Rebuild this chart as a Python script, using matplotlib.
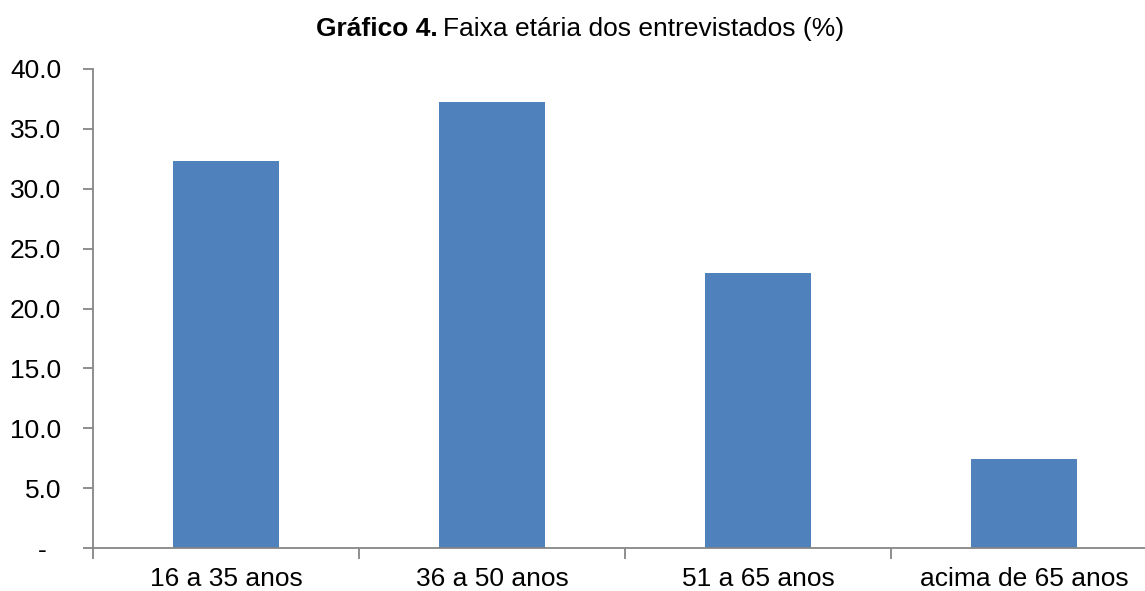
import matplotlib
matplotlib.use("Agg")
import matplotlib.pyplot as plt
from matplotlib.ticker import FixedLocator, FuncFormatter

categories = ["16 a 35 anos", "36 a 50 anos", "51 a 65 anos", "acima de 65 anos"]
values = [32.3, 37.25, 23.0, 7.4]
yticks = [0, 5, 10, 15, 20, 25, 30, 35, 40]

plt.rcParams['font.family'] = ['Liberation Sans', 'DejaVu Sans']

fig = plt.figure(figsize=(11.45, 5.91), dpi=100)
ax = fig.add_axes([93/1145, 1-548/591, (1157-93)/1145, (548-69)/591])

x = list(range(len(categories)))
ax.bar(x, values, width=0.4, color='#4F81BD', zorder=2)
ax.set_xlim(-0.5, len(categories) - 0.5)
ax.set_ylim(0, 40)

gray = '#868686'
for s in ['top', 'right']:
    ax.spines[s].set_visible(False)
for s in ['left', 'bottom']:
    ax.spines[s].set_color(gray)
    ax.spines[s].set_linewidth(1.3)

ax.yaxis.set_major_locator(FixedLocator(yticks))
ax.yaxis.set_major_formatter(FuncFormatter(lambda v, p: '-\u2007' if v == 0 else f'{v:.1f}'))
ax.set_xticks(x)
ax.set_xticklabels(categories)
ax.xaxis.set_minor_locator(FixedLocator([i + 0.5 for i in range(-1, len(categories))]))
ax.tick_params(axis='x', which='major', length=0, labelsize=19, pad=14)
ax.tick_params(axis='x', which='minor', length=8, color=gray, width=1.3)
ax.tick_params(axis='y', length=7, color=gray, width=1.3, labelsize=19, pad=16)

fig.text(438/1145, 1-29/591, 'Gráfico 4.', ha='right', va='center', fontsize=19, fontweight='bold')
fig.text(443/1145, 1-29/591, 'Faixa etária dos entrevistados (%)', ha='left', va='center', fontsize=19)

fig.savefig('out.png', dpi=100)
